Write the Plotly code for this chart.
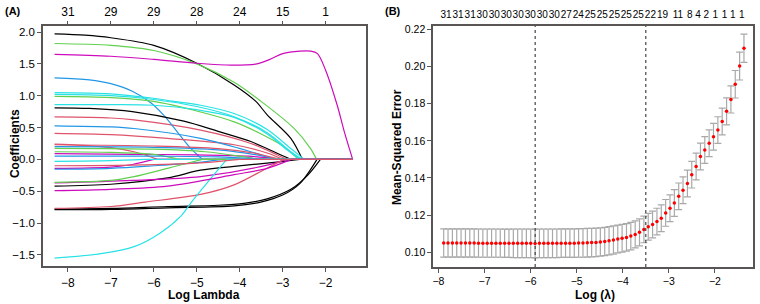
import plotly.graph_objects as go

FONT = "Liberation Sans, Arial, Helvetica, sans-serif"
K = "#000000"; R = "#DF536B"; G = "#61D04F"; B = "#2297E6"; C = "#28E2E5"; M = "#CD0BBC"
FRAME = "#5a5555"

# ---------------- Panel A: coefficient paths (log lambda, coefficient) ----------------
log_lambda_max = -1.37
coef_paths = [
    (K, [-8.31, -7.6, -7.0, -6.0, -5.0, -4.13, -3.63, -3.36, -2.81, -2.54],
        [1.97, 1.95, 1.91, 1.79, 1.51, 1.17, 0.915, 0.70, 0.33, 0.0]),
    (R, [-8.31, -7.0, -6.46, -4.91, -3.74, -3.12, -2.9],
        [0.667, 0.65, 0.62, 0.46, 0.25, 0.07, 0.0]),
    (G, [-8.31, -7.0, -6.0, -5.0, -4.13, -3.51, -2.74, -2.35, -2.21],
        [1.82, 1.79, 1.71, 1.50, 1.21, 0.915, 0.49, 0.17, 0.0]),
    (B, [-8.31, -7.5, -7.0, -6.5, -6.07, -5.75, -5.45, -5.15, -4.87],
        [1.28, 1.25, 1.19, 1.07, 0.89, 0.68, 0.43, 0.18, 0.0]),
    (C, [-8.31, -7.0, -6.0, -5.57, -4.91, -4.13, -3.36, -2.81, -2.5],
        [1.05, 1.03, 0.96, 0.915, 0.85, 0.72, 0.47, 0.17, 0.0]),
    (M, [-8.31, -7.0, -6.0, -5.0, -4.2, -3.6, -3.3, -3.0, -2.6, -2.35, -2.19, -2.0, -1.73, -1.55, -1.37],
        [1.65, 1.62, 1.57, 1.51, 1.48, 1.50, 1.57, 1.66, 1.70, 1.70, 1.66, 1.40, 0.85, 0.40, 0.0]),
    (K, [-8.31, -7.5, -6.5, -5.3, -4.5, -3.74, -3.2, -2.81],
        [0.81, 0.80, 0.75, 0.60, 0.44, 0.28, 0.12, 0.0]),
    (R, [-8.31, -7.0, -5.68, -4.13, -3.36, -3.0],
        [0.41, 0.39, 0.33, 0.23, 0.10, 0.0]),
    (G, [-8.31, -7.0, -6.0, -5.0, -4.13, -3.5, -2.97, -2.63],
        [0.99, 0.97, 0.91, 0.76, 0.59, 0.40, 0.20, 0.0]),
    (B, [-8.31, -7.0, -6.46, -4.91, -3.74, -3.2],
        [0.527, 0.51, 0.485, 0.33, 0.12, 0.0]),
    (C, [-8.31, -7.0, -6.0, -5.0, -4.13, -3.36, -2.81, -2.55],
        [1.02, 1.00, 0.94, 0.83, 0.67, 0.42, 0.12, 0.0]),
    (M, [-8.31, -6.5, -5.0, -3.8, -3.0],
        [0.09, 0.08, 0.07, 0.05, 0.0]),
    (K, [-8.31, -7.0, -5.68, -4.91, -4.13, -2.97, -2.6],
        [-0.42, -0.39, -0.29, -0.17, -0.11, -0.03, 0.0]),
    (R, [-8.31, -7.23, -6.46, -5.91],
        [0.24, 0.20, 0.12, 0.0]),
    (G, [-8.31, -6.0, -4.8, -4.0, -3.55],
        [0.174, 0.16, 0.12, 0.05, 0.0]),
    (B, [-8.31, -6.0, -4.5, -3.6, -3.1],
        [0.20, 0.19, 0.15, 0.07, 0.0]),
    (C, [-8.31, -7.0, -6.0, -5.0, -4.13, -3.36, -2.9, -2.6],
        [0.86, 0.86, 0.85, 0.78, 0.66, 0.40, 0.15, 0.0]),
    (M, [-8.31, -7.0, -6.5, -6.0],
        [-0.14, -0.12, -0.08, 0.0]),
    (K, [-8.31, -7.0, -5.68, -4.5, -3.9, -3.36, -2.81, -2.42, -2.12],
        [-0.78, -0.77, -0.74, -0.72, -0.69, -0.62, -0.47, -0.25, 0.0]),
    (R, [-8.31, -6.0, -4.5, -3.67, -3.05],
        [0.23, 0.21, 0.17, 0.10, 0.0]),
    (G, [-8.31, -7.0, -6.0, -5.4],
        [0.12, 0.11, 0.08, 0.0]),
    (B, [-8.31, -7.0, -6.0, -5.0, -4.4],
        [-0.155, -0.14, -0.10, -0.05, 0.0]),
    (C, [-8.31, -7.0, -6.23],
        [-0.03, -0.02, 0.0]),
    (M, [-8.31, -6.5, -4.91, -3.36, -2.9],
        [-0.37, -0.33, -0.27, -0.09, 0.0]),
    (K, [-8.31, -7.0, -5.68, -4.13, -3.51, -3.0, -2.6, -2.2],
        [-0.79, -0.785, -0.76, -0.73, -0.67, -0.56, -0.38, 0.0]),
    (R, [-8.31, -7.0, -6.2, -4.91, -4.13, -3.4, -2.97],
        [-0.77, -0.74, -0.67, -0.55, -0.40, -0.15, 0.0]),
    (G, [-8.31, -7.0, -6.46, -5.68, -5.22, -4.87],
        [-0.36, -0.33, -0.27, -0.14, -0.06, 0.0]),
    (B, [-8.31, -6.0, -4.5, -3.3],
        [0.05, 0.05, 0.04, 0.0]),
    (C, [-8.31, -7.23, -6.46, -5.84, -5.37, -5.1, -4.87, -4.6, -4.3],
        [-1.55, -1.48, -1.37, -1.15, -0.89, -0.65, -0.46, -0.24, 0.0]),
    (M, [-8.31, -7.0, -5.68, -4.13, -3.36, -2.8],
        [-0.49, -0.47, -0.42, -0.24, -0.14, 0.0]),
    (R, [-8.31, -6.5, -5.0, -4.0],
        [-0.10, -0.09, -0.06, 0.0]),
]
top_a_vals = [-8, -7, -6, -5, -4, -3, -2]
top_a_text = ["31", "29", "29", "28", "24", "15", "1"]

# ---------------- Panel B: cross-validation curve ----------------
cv_log_lambda = [
    -7.885, -7.791, -7.696, -7.602, -7.508, -7.413, -7.319, -7.224, -7.130, -7.035,
    -6.941, -6.846, -6.752, -6.658, -6.563, -6.469, -6.374, -6.280, -6.185, -6.091,
    -5.997, -5.902, -5.808, -5.713, -5.619, -5.524, -5.430, -5.336, -5.241, -5.147,
    -5.052, -4.958, -4.863, -4.769, -4.675, -4.580, -4.486, -4.391, -4.297, -4.202,
    -4.108, -4.014, -3.919, -3.825, -3.730, -3.636, -3.541, -3.447, -3.353, -3.258,
    -3.164, -3.069, -2.975, -2.880, -2.786, -2.692, -2.597, -2.503, -2.408, -2.314,
    -2.220, -2.125, -2.031, -1.936, -1.842, -1.747, -1.653, -1.559, -1.464, -1.370]
cv_mse = [
    0.1050, 0.1050, 0.1050, 0.1050, 0.1050, 0.1050, 0.1050, 0.1050, 0.1049, 0.1049,
    0.1049, 0.1049, 0.1049, 0.1049, 0.1048, 0.1048, 0.1048, 0.1048, 0.1048, 0.1048,
    0.1048, 0.1047, 0.1048, 0.1048, 0.1048, 0.1048, 0.1048, 0.1049, 0.1049, 0.1049,
    0.1049, 0.1050, 0.1050, 0.1051, 0.1052, 0.1053, 0.1055, 0.1058, 0.1062, 0.1066,
    0.1071, 0.1075, 0.1080, 0.1087, 0.1096, 0.1107, 0.1123, 0.1137, 0.1149, 0.1165,
    0.1183, 0.1212, 0.1237, 0.1265, 0.1301, 0.1334, 0.1370, 0.1418, 0.1462, 0.1516,
    0.1551, 0.1587, 0.1622, 0.1658, 0.1704, 0.1759, 0.1823, 0.1905, 0.2003, 0.2099]
cv_se = [
    0.0076, 0.0076, 0.0076, 0.0076, 0.0076, 0.0076, 0.0076, 0.0076, 0.0076, 0.0076,
    0.0076, 0.0076, 0.0076, 0.0076, 0.0076, 0.0076, 0.0077, 0.0077, 0.0077, 0.0077,
    0.0077, 0.0077, 0.0077, 0.0077, 0.0077, 0.0077, 0.0077, 0.0077, 0.0077, 0.0077,
    0.0077, 0.0077, 0.0077, 0.0077, 0.0077, 0.0077, 0.0076, 0.0076, 0.0076, 0.0076,
    0.0075, 0.0075, 0.0074, 0.0074, 0.0073, 0.0073, 0.0072, 0.0072, 0.0072, 0.0072,
    0.0072, 0.0072, 0.0072, 0.0072, 0.0072, 0.0072, 0.0072, 0.0072, 0.0072, 0.0072,
    0.0072, 0.0072, 0.0072, 0.0072, 0.0072, 0.0073, 0.0073, 0.0074, 0.0075, 0.0076]
log_lambda_min = -5.90
log_lambda_1se = -3.50
top_b_vals = [-7.833, -7.573, -7.311, -7.051, -6.789, -6.529, -6.269, -6.007, -5.747,
              -5.485, -5.225, -4.966, -4.704, -4.444, -4.181, -3.922, -3.662, -3.400,
              -3.138, -2.802, -2.548, -2.369, -2.189, -1.994, -1.790, -1.611, -1.416]
top_b_text = ["31", "31", "31", "30", "30", "30", "30", "30", "30", "30", "27", "24",
              "25", "25", "25", "25", "25", "22", "19", "11", "8", "4", "2", "1", "1", "1", "1"]

fig = go.Figure()

for col, xs, ys in coef_paths:
    fig.add_trace(go.Scatter(x=xs, y=ys, mode="lines", xaxis="x", yaxis="y",
                             line=dict(color=col, width=1.2, shape="spline", smoothing=0.9),
                             showlegend=False, hoverinfo="skip"))
    fig.add_trace(go.Scatter(x=[xs[-1], log_lambda_max], y=[0, 0], mode="lines",
                             xaxis="x", yaxis="y", line=dict(color=col, width=1.2),
                             showlegend=False, hoverinfo="skip"))

# dummy traces so the top overlay axes are drawn
fig.add_trace(go.Scatter(x=[-8, -2], y=[None, None], xaxis="x3", yaxis="y",
                         mode="lines", showlegend=False, hoverinfo="skip"))
fig.add_trace(go.Scatter(x=[-8, -2], y=[None, None], xaxis="x4", yaxis="y2",
                         mode="lines", showlegend=False, hoverinfo="skip"))

fig.add_trace(go.Scatter(
    x=cv_log_lambda, y=cv_mse, mode="markers", xaxis="x2", yaxis="y2",
    marker=dict(color="#FF0000", size=3.5),
    error_y=dict(type="data", array=cv_se, visible=True, color="#A9A9A9", thickness=1.2, width=3.5),
    showlegend=False, hoverinfo="skip"))

for v in [log_lambda_min, log_lambda_1se]:
    fig.add_shape(type="line", xref="x2", yref="y2 domain", x0=v, x1=v, y0=0, y1=1,
                  line=dict(color="#444444", width=1.2, dash="dot"))

axis_common = dict(showgrid=False, zeroline=False, showline=True, mirror=True,
                   linecolor=FRAME, linewidth=1.5, ticks="outside", ticklen=4,
                   tickcolor=FRAME, tickwidth=1.2)

fig.update_layout(
    width=760, height=304, margin=dict(l=0, r=0, t=0, b=0),
    paper_bgcolor="white", plot_bgcolor="white",
    font=dict(family=FONT, color="#000000"),
    xaxis=dict(domain=[0.0553, 0.4803], range=[-8.58, -1.07], anchor="y",
               tickvals=[-8, -7, -6, -5, -4, -3, -2], tickfont=dict(size=12), **axis_common),
    yaxis=dict(domain=[0.125, 0.9243], range=[-1.68, 2.098], anchor="x",
               tickvals=[-1.5, -1.0, -0.5, 0.0, 0.5, 1.0, 1.5, 2.0], tickformat=".1f",
               tickfont=dict(size=11.5), **axis_common),
    xaxis3=dict(overlaying="x", side="top", anchor="y", range=[-8.58, -1.07],
                tickvals=top_a_vals, ticktext=top_a_text, showgrid=False, zeroline=False,
                showline=False, ticks="outside", ticklen=4, tickcolor=FRAME, tickwidth=1.2,
                tickfont=dict(size=12), tickangle=0),
    xaxis2=dict(domain=[0.5693, 0.9904], range=[-8.115, -1.18], anchor="y2",
                tickvals=[-8, -7, -6, -5, -4, -3, -2], tickfont=dict(size=10.5), **axis_common),
    yaxis2=dict(domain=[0.1227, 0.9243], range=[0.092, 0.222], anchor="x2",
                tickvals=[0.10, 0.12, 0.14, 0.16, 0.18, 0.20, 0.22], tickformat=".2f",
                tickfont=dict(size=10.5), **axis_common),
    xaxis4=dict(overlaying="x2", side="top", anchor="y2", range=[-8.115, -1.18],
                tickvals=top_b_vals, ticktext=top_b_text, showgrid=False, zeroline=False,
                showline=False, ticks="outside", ticklen=3, tickcolor="rgba(0,0,0,0)",
                tickfont=dict(size=10), tickangle=0),
)

ann = [
    dict(text="<b>(A)</b>", x=2, y=8, size=11, angle=0, xanchor="left"),
    dict(text="<b>(B)</b>", x=383, y=8, size=11, angle=0, xanchor="left"),
    dict(text="<b>Coefficients</b>", x=13.5, y=142, size=12, angle=-90, xanchor="center"),
    dict(text="<b>Log Lambda</b>", x=203, y=295, size=12, angle=0, xanchor="center"),
    dict(text="<b>Mean-Squared Error</b>", x=396, y=145, size=12, angle=-90, xanchor="center"),
    dict(text="<b>Log (λ)</b>", x=595, y=295, size=12, angle=0, xanchor="center"),
]
for a in ann:
    fig.add_annotation(text=a["text"], xref="paper", yref="paper",
                       x=a["x"] / 760, y=1 - a["y"] / 304, xanchor=a["xanchor"], yanchor="middle",
                       textangle=a["angle"], showarrow=False,
                       font=dict(family=FONT, size=a["size"], color="#000000"))

fig.write_html("out.html")
